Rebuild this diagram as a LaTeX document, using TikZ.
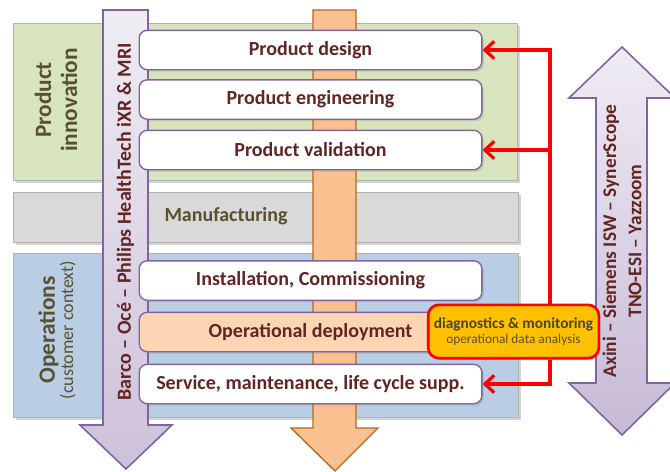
\documentclass[tikz,border=0pt]{standalone}
\usepackage{fontspec}
\setmainfont{Carlito}
\usetikzlibrary{arrows.meta,shadows}
\definecolor{boxtext}{HTML}{632523}
\definecolor{olivetext}{HTML}{57512F}
\definecolor{lila}{HTML}{8064A2}
\definecolor{innov}{HTML}{D7E4BD}
\definecolor{manuf}{HTML}{D9D9D9}
\definecolor{opera}{HTML}{B9CDE5}
\definecolor{peach}{HTML}{FAC090}
\definecolor{peachline}{HTML}{B8671E}
\definecolor{deploy}{HTML}{FCD5B5}
\definecolor{amber}{HTML}{FFC000}
\begin{document}
\begin{tikzpicture}[x=0.75pt,y=-0.75pt,
    panel/.style={draw=black!30,line width=0.5pt,drop shadow={shadow xshift=2pt,shadow yshift=-2pt,opacity=0.35}},
    stage/.style={draw=lila,line width=1pt,fill=white,rounded corners=6pt,minimum width=257pt,minimum height=29.5pt,
        font=\fontsize{15}{17}\selectfont\bfseries,text=boxtext,drop shadow={shadow xshift=1.5pt,shadow yshift=-1.5pt,opacity=0.25}},
    sidelabel/.style={rotate=90,align=center,text=olivetext},
    arrowlabel/.style={rotate=90,align=center,text=boxtext,font=\fontsize{15}{19}\selectfont\bfseries},
    redarr/.style={draw=red,line width=2.4pt,-{Straight Barb[length=7pt,width=13pt]}},
    redline/.style={draw=red,line width=2.4pt}]
    \useasboundingbox (0,0) rectangle (670,471);
    \clip (0,0) rectangle (670,471);
    % phases
    \draw[panel,fill=innov] (13,23) rectangle (517,180);
    \draw[panel,fill=manuf] (13,192) rectangle (518,242);
    \draw[panel,fill=opera] (13,253) rectangle (518,417);
    \node[sidelabel,font=\fontsize{17.5}{19.5}\selectfont\bfseries] (innovlabel) at (56,100) {Product\\innovation};
    \node[sidelabel] (operlabel) at (57,330) {{\fontsize{17.5}{20}\selectfont\bfseries Operations}\\{\fontsize{13.5}{14}\selectfont (customer context)}};
    \node[text=olivetext,font=\fontsize{15}{17}\selectfont\bfseries] (manlabel) at (226,216) {Manufacturing};
    % big arrows
    \draw[draw=peachline,line width=1pt,fill=peach] (313,10)--(356,10)--(356,428)--(378,428)--(335,471)--(291,428)--(313,428)--cycle;
    \draw[draw=lila,line width=1.2pt,top color=lila!12,bottom color=lila!40] (103,10)--(148,10)--(148,425)--(172,425)--(126,469)--(80,425)--(103,425)--cycle;
    \node[arrowlabel] (companies) at (125.5,222) {Barco -- Océ -- Philips HealthTech iXR \& MRI};
    \draw[draw=lila,line width=1.2pt,top color=lila!12,bottom color=lila!45] (622,47)--(675,98)--(647,98)--(647,383)--(675,383)--(622,435)--(569,383)--(596,383)--(596,98)--(569,98)--cycle;
    \node[arrowlabel,font=\fontsize{14.5}{19}\selectfont\bfseries] (partners) at (622,241) {Axini -- Siemens ISW -- SynerScope\\TNO-ESI -- Yazzoom};
    % life cycle stages
    \node[stage] (design) at (310.5,50) {Product design};
    \node[stage] (engineering) at (310.5,99.5) {Product engineering};
    \node[stage] (validation) at (310.5,150) {Product validation};
    \node[stage] (install) at (310.5,280.5) {Installation, Commissioning};
    \node[stage,fill=deploy] (deployment) at (310.5,332) {Operational deployment};
    \node[stage] (service) at (310.5,384) {Service, maintenance, life cycle supp.};
    % feedback
    \node[draw=red,line width=2pt,fill=amber,rounded corners=8pt,minimum width=128pt,minimum height=40pt,align=center,inner sep=1pt,
        drop shadow={shadow xshift=1.5pt,shadow yshift=-1.5pt,opacity=0.3}] (diag) at (513.5,331.5)
        {{\fontsize{11.5}{13}\selectfont\bfseries\color{olivetext!85!black}diagnostics \& monitoring}\\[-1pt]{\fontsize{10}{12}\selectfont\color{olivetext}operational data analysis}};
    \coordinate (bus) at (550,50);
    \draw[redarr] (diag.north -| bus) |- (design.east);
    \draw[redarr] (bus |- validation.east) -- (validation.east);
    \draw[redarr] (diag.south -| bus) |- (service.east);
\end{tikzpicture}
\end{document}
